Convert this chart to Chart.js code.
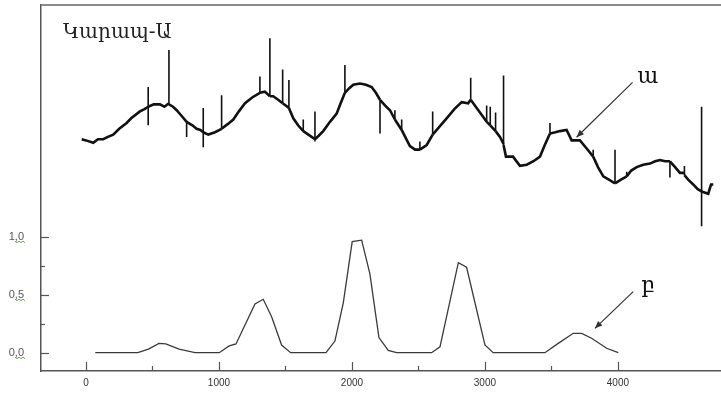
<!DOCTYPE html>
<html><head><meta charset="utf-8">
<script src="https://cdn.jsdelivr.net/npm/chart.js@4/dist/chart.umd.min.js"></script>
<style>html,body{margin:0;padding:0;background:#fff}#wrap{width:721px;height:393px}</style>
</head><body><div id="wrap"><canvas id="c" width="721" height="393"></canvas></div>
<script>
// Tick values
const xTicks = [0, 1000, 2000, 3000, 4000];
const xMinor = [500, 1500, 2500, 3500];
const yTicks = [0, 0.5, 1.0];
const yMinor = [0.25, 0.75];

// Series ա (noisy trace, upper)
const seriesAX = [-32,0,55,90,130,165,205,250,306,340,406,440,468,468,468,468,510,556,590,624,624,624,655,682,720,757,757,757,800,832,860,882,882,882,882,920,970,1020,1020,1020,1065,1108,1150,1196,1250,1308,1308,1308,1345,1383,1383,1383,1408,1445,1479,1479,1479,1526,1526,1526,1559,1595,1634,1634,1634,1697,1722,1722,1722,1722,1750,1784,1835,1885,1915,1947,1947,1947,1980,2010,2060,2105,2148,2180,2211,2211,2211,2250,2286,2323,2323,2323,2374,2374,2374,2405,2436,2475,2511,2511,2511,2562,2607,2607,2607,2660,2712,2770,2825,2874,2893,2893,2893,2938,2975,3013,3013,3013,3040,3040,3040,3080,3080,3080,3113,3140,3140,3140,3158,3211,3263,3314,3365,3414,3450,3489,3489,3489,3530,3564,3614,3652,3714,3765,3814,3814,3814,3850,3890,3935,3978,3978,3978,4020,4066,4066,4066,4100,4141,4190,4241,4280,4316,4355,4391,4391,4391,4430,4466,4500,4500,4500,4530,4566,4600,4629,4629,4629,4629,4679,4700,4717];
const seriesAY = [1.84,1.83,1.81,1.84,1.84,1.86,1.88,1.93,1.98,2.02,2.08,2.10,2.12,2.29,1.96,2.12,2.14,2.14,2.12,2.15,2.61,2.14,2.12,2.09,2.04,1.99,1.86,1.99,1.96,1.93,1.92,1.90,2.11,1.77,1.90,1.88,1.90,1.93,2.22,1.93,1.97,2.01,2.08,2.15,2.20,2.24,2.38,2.24,2.25,2.21,2.71,2.21,2.21,2.18,2.15,2.44,2.15,2.11,2.35,2.11,2.02,1.96,1.91,2.01,1.91,1.86,1.84,2.08,1.82,1.84,1.87,1.91,1.99,2.06,2.15,2.24,2.48,2.24,2.28,2.31,2.32,2.31,2.29,2.24,2.18,1.89,2.18,2.13,2.09,2.01,2.09,2.01,1.92,2.01,1.92,1.85,1.78,1.75,1.75,1.82,1.75,1.79,1.88,2.08,1.88,1.95,2.02,2.10,2.16,2.15,2.18,2.37,2.18,2.11,2.05,1.99,2.13,1.99,1.96,2.12,1.96,1.91,2.07,1.91,1.86,1.80,2.39,1.79,1.69,1.69,1.61,1.62,1.65,1.69,1.79,1.89,1.98,1.89,1.90,1.91,1.92,1.83,1.83,1.76,1.69,1.75,1.69,1.60,1.52,1.49,1.46,1.75,1.46,1.49,1.52,1.56,1.52,1.57,1.60,1.62,1.63,1.65,1.66,1.65,1.65,1.51,1.65,1.60,1.55,1.55,1.61,1.53,1.49,1.45,1.41,1.39,2.12,1.09,1.39,1.37,1.45,1.45];

// Series բ (smooth curve, lower)
const seriesBX = [70,390,470,549,600,700,820,1002,1077,1128,1271,1333,1396,1471,1539,1805,1872,1935,2002,2073,2135,2203,2273,2336,2599,2662,2800,2862,3000,3062,3451,3551,3664,3727,3802,3915,4003];
const seriesBY = [0,0,0.03,0.08,0.075,0.03,0,0,0.058,0.075,0.42,0.46,0.31,0.066,0,0,0.10,0.43,0.957,0.97,0.68,0.13,0.02,0,0,0.05,0.776,0.736,0.066,0,0,0.08,0.167,0.167,0.124,0.038,0];

// Texts and annotations
const chartTitle = "Կարապ-Ա";
const seriesNames = ["ա", "բ"];
const nameX = [4226, 4226];
const nameY = [2.37, 0.575];
const arrowFromX = [4110, 4115];
const arrowFromY = [2.33, 0.526];
const arrowToX = [3689, 3827];
const arrowToY = [1.857, 0.21];

const dataA = seriesAX.map((x, i) => ({x: x, y: seriesAY[i]}));
const dataB = seriesBX.map((x, i) => ({x: x, y: seriesBY[i]}));

const decor = {
  id: 'decor',
  afterDraw(chart) {
    const ctx = chart.ctx, a = chart.chartArea, xs = chart.scales.x, ys = chart.scales.y;
    ctx.save();
    ctx.strokeStyle = '#8a8a8a'; ctx.lineWidth = 2;
    ctx.beginPath(); ctx.moveTo(a.left, a.top); ctx.lineTo(a.right, a.top); ctx.stroke();
    ctx.strokeStyle = '#555'; ctx.lineWidth = 1.2;
    xTicks.forEach(v => { const p = Math.round(xs.getPixelForValue(v)) + 0.5; ctx.beginPath(); ctx.moveTo(p, a.bottom); ctx.lineTo(p, a.bottom - 9); ctx.stroke(); });
    xMinor.forEach(v => { const p = Math.round(xs.getPixelForValue(v)) + 0.5; ctx.beginPath(); ctx.moveTo(p, a.bottom); ctx.lineTo(p, a.bottom - 5); ctx.stroke(); });
    yTicks.forEach(v => { const p = Math.round(ys.getPixelForValue(v)) + 0.5; ctx.beginPath(); ctx.moveTo(a.left, p); ctx.lineTo(a.left + 8, p); ctx.stroke(); });
    yMinor.forEach(v => { const p = Math.round(ys.getPixelForValue(v)) + 0.5; ctx.beginPath(); ctx.moveTo(a.left, p); ctx.lineTo(a.left + 4, p); ctx.stroke(); });
    ctx.strokeStyle = '#6aa84f'; ctx.lineWidth = 1;
    yTicks.forEach(v => {
      const p = ys.getPixelForValue(v) + 5;
      ctx.beginPath();
      for (let k = 0; k <= 5; k++) { const xx = 15 + k * 2; const yy = p + (k % 2 ? 1 : -0.5); if (k === 0) ctx.moveTo(xx, yy); else ctx.lineTo(xx, yy); }
      ctx.stroke();
    });
    ctx.fillStyle = '#222';
    ctx.font = '20px "DejaVu Serif"';
    ctx.textAlign = 'left'; ctx.textBaseline = 'alphabetic';
    ctx.fillText(chartTitle, a.left + 22, a.top + 33);
    ctx.strokeStyle = '#333'; ctx.fillStyle = '#333'; ctx.lineWidth = 1.2;
    for (let i = 0; i < seriesNames.length; i++) {
      const fx = xs.getPixelForValue(arrowFromX[i]), fy = ys.getPixelForValue(arrowFromY[i]);
      const tx = xs.getPixelForValue(arrowToX[i]), ty = ys.getPixelForValue(arrowToY[i]);
      ctx.beginPath(); ctx.moveTo(fx, fy); ctx.lineTo(tx, ty); ctx.stroke();
      const ang = Math.atan2(ty - fy, tx - fx), L = 8, W = 0.4;
      ctx.beginPath(); ctx.moveTo(tx, ty);
      ctx.lineTo(tx - L * Math.cos(ang - W), ty - L * Math.sin(ang - W));
      ctx.lineTo(tx - L * Math.cos(ang + W), ty - L * Math.sin(ang + W));
      ctx.closePath(); ctx.fill();
      ctx.fillStyle = '#111';
      ctx.font = '22px "DejaVu Serif"';
      ctx.textAlign = 'center'; ctx.textBaseline = 'middle';
      ctx.fillText(seriesNames[i], xs.getPixelForValue(nameX[i]), ys.getPixelForValue(nameY[i]));
      ctx.fillStyle = '#333';
    }
    ctx.restore();
  }
};

new Chart(document.getElementById('c'), {
  type: 'line',
  data: { datasets: [
    { label: seriesNames[0], data: dataA, borderColor: '#111', borderWidth: 2.6, pointRadius: 0, tension: 0, fill: false,
      segment: { borderWidth: c => (c.p0.parsed.x === c.p1.parsed.x ? 1.6 : 2.6) } },
    { label: seriesNames[1], data: dataB, borderColor: '#3a3a3a', borderWidth: 1.3, pointRadius: 0, tension: 0, fill: false }
  ]},
  options: {
    responsive: false, animation: false, devicePixelRatio: 1,
    layout: { autoPadding: false, padding: { top: 5, left: 0, right: 0, bottom: 0 } },
    plugins: { legend: { display: false }, tooltip: { enabled: false }, title: { display: false } },
    scales: {
      x: {
        type: 'linear', min: -338, max: 4775,
        afterBuildTicks: s => { s.ticks = xTicks.map(v => ({ value: v })); },
        afterFit: s => { s.height = 22; s.paddingLeft = 0; s.paddingRight = 0; },
        ticks: { callback: v => String(v), font: { family: 'Liberation Sans', size: 10 }, color: '#333', padding: 6, maxRotation: 0, autoSkip: false },
        grid: { display: false, drawTicks: false },
        border: { display: true, color: '#555', width: 1.5 }
      },
      y: {
        type: 'linear', min: -0.158, max: 2.997,
        afterBuildTicks: s => { s.ticks = yTicks.map(v => ({ value: v })); },
        afterFit: s => { s.width = 41; s.paddingTop = 0; s.paddingBottom = 0; },
        ticks: { callback: v => v.toFixed(1).replace('.', ','), font: { family: 'Liberation Sans', size: 11 }, color: '#555', padding: 17 },
        grid: { display: false, drawTicks: false },
        border: { display: true, color: '#555', width: 1.5 }
      }
    }
  },
  plugins: [decor]
});
</script>
</body></html>
